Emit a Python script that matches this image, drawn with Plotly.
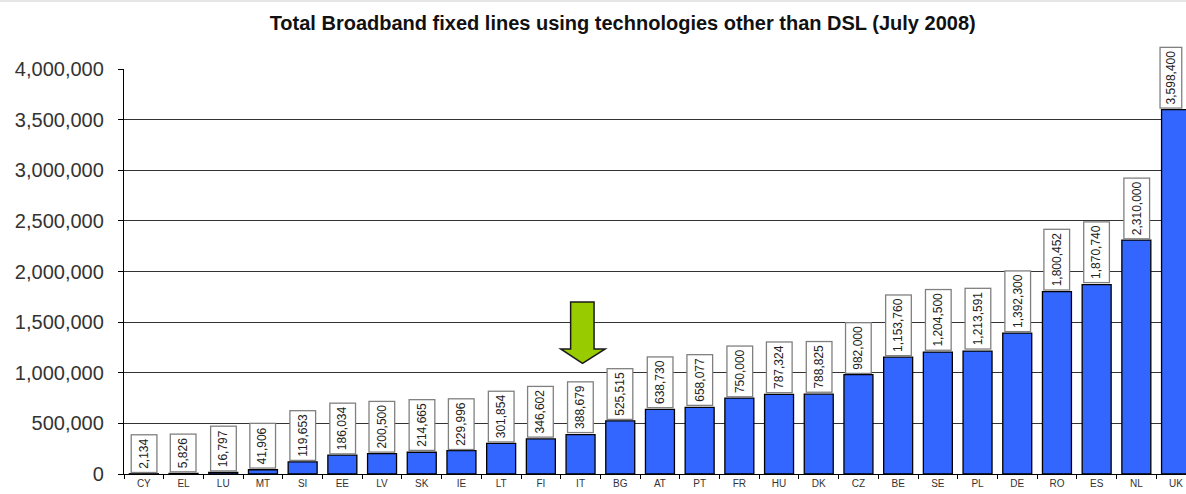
import plotly.graph_objects as go

# ---- data ----
countries = ["CY", "EL", "LU", "MT", "SI", "EE", "LV", "SK", "IE", "LT", "FI", "IT",
             "BG", "AT", "PT", "FR", "HU", "DK", "CZ", "BE", "SE", "PL", "DE", "RO",
             "ES", "NL", "UK"]
lines = [2134, 5826, 16797, 41906, 119653, 186034, 200500, 214665, 229996, 301854,
         346602, 388679, 525515, 638730, 658077, 750000, 787324, 788825, 982000,
         1153760, 1204500, 1213591, 1392300, 1800452, 1870740, 2310000, 3598400]
y_ticks = [0, 500000, 1000000, 1500000, 2000000, 2500000, 3000000, 3500000, 4000000]
title = "Total Broadband fixed lines using technologies other than DSL (July 2008)"
highlight = "IT"

W, H = 1186, 494
L, T, B = 124, 69, 20
band_px = 39.7
x_range = [-0.5, -0.5 + (W - L) / band_px]

fig = go.Figure()
fig.add_trace(go.Bar(
    x=countries, y=lines,
    marker=dict(color="#3366FF", line=dict(color="#000000", width=1.3)),
    hoverinfo="x+y",
))

# value labels (rotated boxed)
annotations = []
n = len(countries)
for i, (c, v) in enumerate(zip(countries, lines)):
    annotations.append(dict(
        x=c, y=v, xref="x", yref="y",
        text=f"{v:,}", textangle=-90, showarrow=False,
        xanchor="center", yanchor="bottom",
        xshift=(-5 if i == n - 1 else 0), yshift=1,
        height=(14 if i == n - 1 else 18),
        font=dict(family="Arial", size=12, color="#222222"),
        bgcolor="#FFFFFF", bordercolor="#808080", borderwidth=1.3, borderpad=3,
    ))

# green block arrow above highlighted country
ix = countries.index(highlight)
top, base, tip = 1700000, 1235000, 1093000
sh, hw = 0.30, 0.56
path = (f"M {ix-0.25},{top} L {ix+sh+0.04},{top} L {ix+sh+0.04},{base} "
        f"L {ix+hw+0.06},{base} L {ix+0.05},{tip} L {ix-hw+0.06},{base} "
        f"L {ix-0.25},{base} Z")
shapes = [
    dict(type="path", xref="x", yref="y", path=path,
         fillcolor="#99CC00", line=dict(color="#1a1a1a", width=1.5), layer="above"),
    dict(type="rect", xref="paper", yref="paper", x0=-0.2, x1=1.1,
         y0=1 + (T - 2) / (H - T - B), y1=1 + T / (H - T - B),
         fillcolor="#E6E6E6", line=dict(width=0), layer="below"),
]

fig.update_layout(
    width=W, height=H,
    margin=dict(l=L, r=0, t=T, b=B, pad=0),
    paper_bgcolor="#FFFFFF", plot_bgcolor="#FFFFFF",
    showlegend=False, bargap=0.27,
    font=dict(family="Arial", color="#333333"),
    title=dict(text=f"<b>{title}</b>", x=0.525, xref="container", xanchor="center",
               y=1 - 23 / H, yref="container", yanchor="middle",
               font=dict(family="Arial", size=20, color="#111111")),
    annotations=annotations,
    shapes=shapes,
)
fig.update_xaxes(
    type="category", range=x_range, showgrid=False,
    showline=True, linecolor="#000000", linewidth=1.3,
    ticks="outside", tickson="boundaries", ticklen=4, tickcolor="#000000", tickwidth=1,
    tickfont=dict(family="Arial", size=10, color="#333333"),
    fixedrange=True,
)
fig.update_yaxes(
    range=[0, 4000000], tickvals=y_ticks, tickformat=",d",
    showgrid=True, gridcolor="#333333", gridwidth=1,
    showline=True, linecolor="#000000", linewidth=1.3,
    ticks="outside", ticklen=5, tickcolor="#000000",
    tickfont=dict(family="Arial", size=20, color="#333333"),
    ticklabelstandoff=10, zeroline=False, fixedrange=True,
)

fig.write_html("out.html")
